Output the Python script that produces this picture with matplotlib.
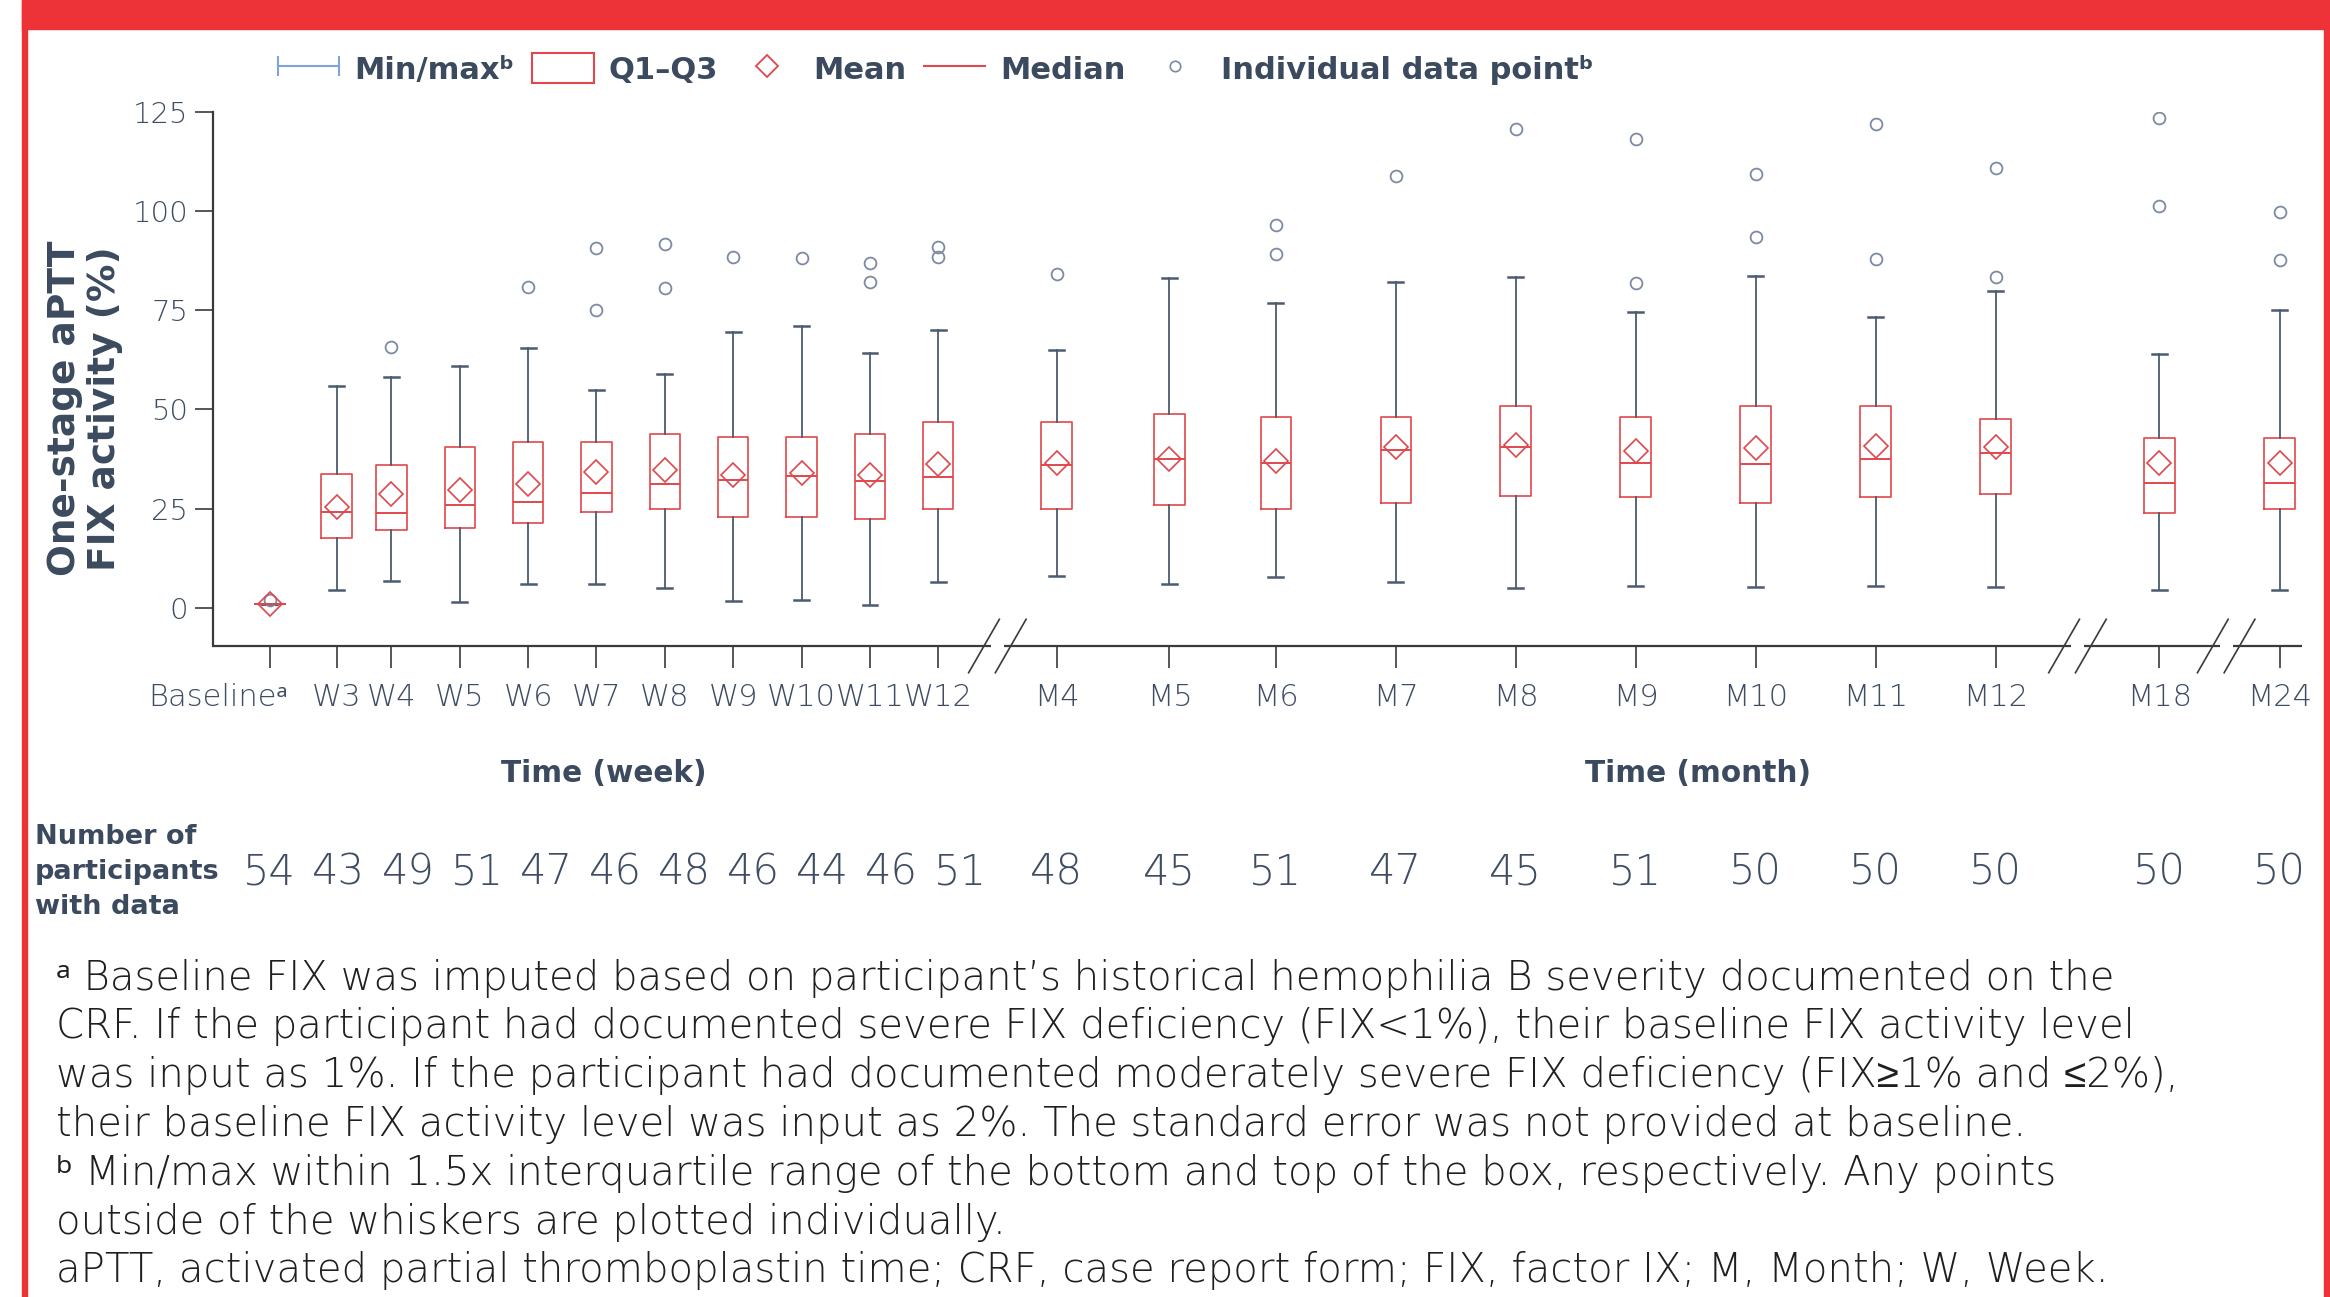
import matplotlib
matplotlib.use("Agg")
import numpy as np
import matplotlib.pyplot as plt
import matplotlib.transforms as mtransforms
from matplotlib.lines import Line2D
from matplotlib.patches import Patch, Rectangle
from matplotlib.legend_handler import HandlerLine2D

# time points
labels = ["Baselineᵃ", "W3", "W4", "W5", "W6", "W7", "W8", "W9", "W10", "W11", "W12",
          "M4", "M5", "M6", "M7", "M8", "M9", "M10", "M11", "M12", "M18", "M24"]
n_participants = [54, 43, 49, 51, 47, 46, 48, 46, 44, 46, 51,
                  48, 45, 51, 47, 45, 51, 50, 50, 50, 50, 50]

# box statistics, one-stage aPTT FIX activity (%)
q1 = [1, 17.7, 19.7, 20.2, 21.4, 24.2, 24.9, 23.0, 23.0, 22.3, 25.0,
      25.0, 25.8, 25.0, 26.5, 28.1, 28.0, 26.5, 27.9, 28.6, 23.8, 24.9]
median = [1, 24.2, 23.9, 26.0, 26.7, 28.9, 31.3, 32.2, 33.1, 31.9, 33.0,
          36.0, 37.4, 36.5, 39.7, 40.5, 36.5, 36.2, 37.4, 38.9, 31.5, 31.5]
q3 = [1, 33.8, 36.1, 40.5, 41.9, 41.9, 43.8, 43.1, 43.1, 43.8, 46.7,
      46.7, 48.8, 48.1, 48.1, 50.9, 48.1, 50.8, 50.8, 47.6, 42.8, 42.8]
mean = [1.04, 25.4, 28.6, 29.8, 31.2, 34.2, 34.7, 33.4, 34.0, 33.4, 36.3,
        36.6, 37.5, 37.1, 40.6, 41.1, 39.5, 40.2, 40.7, 40.6, 36.6, 36.4]
whisk_lo = [1, 4.4, 6.7, 1.4, 6.0, 6.1, 5.0, 1.8, 2.0, 0.7, 6.5,
            8.1, 6.1, 7.8, 6.4, 5.0, 5.6, 5.3, 5.4, 5.3, 4.4, 4.4]
whisk_hi = [1, 55.9, 58.1, 60.9, 65.5, 54.9, 59.0, 69.5, 71.0, 64.2, 69.9,
            64.9, 83.2, 76.8, 82.2, 83.4, 74.6, 83.6, 73.2, 79.7, 63.9, 75.1]
outliers = [[2], [], [65.6], [], [80.7], [75.0, 90.7], [80.5, 91.7], [88.3], [88.2],
            [82.0, 86.8], [88.3, 91.0], [84.1], [], [89.2, 96.4], [108.7], [120.7],
            [81.8, 118.1], [93.5, 109.3], [87.8, 121.8], [83.3, 110.9],
            [101.1, 123.5], [87.5, 99.6]]

footnotes = [
    "ᵃ Baseline FIX was imputed based on participant’s historical hemophilia B severity documented on the",
    "CRF. If the participant had documented severe FIX deficiency (FIX<1%), their baseline FIX activity level",
    "was input as 1%. If the participant had documented moderately severe FIX deficiency (FIX≥1% and ≤2%),",
    "their baseline FIX activity level was input as 2%. The standard error was not provided at baseline.",
    "ᵇ Min/max within 1.5x interquartile range of the bottom and top of the box, respectively. Any points",
    "outside of the whiskers are plotted individually.",
    "aPTT, activated partial thromboplastin time; CRF, case report form; FIX, factor IX; M, Month; W, Week.",
]

# colours
red = "#E0474C"
frame_red = "#EE3338"
navy = "#3B4A5E"
tick_col = "#3E4D62"
whisk_col = "#4B5B70"
count_col = "#3E4D62"
flier_col = "#7C8BA1"
axis_col = "#3A3A3A"
note_col = "#1F1F1F"

# light DejaVu lacks a few signs (superscripts, <= >=) -> fall back to Noto Sans
plt.rcParams["font.family"] = ["DejaVu Sans", "Noto Sans", "Liberation Sans"]

# x layout: spacing between consecutive time points (week slots)
steps = ([0, 1.0, 0.82] + [1.0225] * 8 +
         [1.77, 1.69, 1.59] + [1.795] * 6 + [2.45, 1.8])
pos = np.cumsum(steps)
# the counts row sits on its own even grid under the weeks
count_pos = np.concatenate([np.arange(11) * 1.034, pos[11:]])
breaks = [(pos[10] + pos[11]) / 2, (pos[19] + pos[20]) / 2, (pos[20] + pos[21]) / 2 + 0.1]
xlim = (-0.85, pos[-1] + 0.33)
ylim = (-9.6, 125)

fig = plt.figure(figsize=(23.3, 12.97), dpi=100)
ax = fig.add_axes([0.09142, 0.50193, 0.89644, 0.41203])

stats = []
for i in range(len(labels)):
    stats.append(dict(med=median[i], q1=q1[i], q3=q3[i], whislo=whisk_lo[i],
                      whishi=whisk_hi[i], mean=mean[i], fliers=outliers[i]))

ax.bxp(stats, positions=pos, widths=0.455, showmeans=True, manage_ticks=False,
       capwidths=0.22,
       boxprops=dict(color=red, lw=1.2),
       medianprops=dict(color=red, lw=1.4),
       whiskerprops=dict(color=whisk_col, lw=1.3),
       capprops=dict(color=whisk_col, lw=1.8),
       meanprops=dict(marker="D", markersize=12.5, markerfacecolor="none",
                      markeredgecolor=red, markeredgewidth=1.2),
       flierprops=dict(marker="o", markersize=8.5, markerfacecolor="none",
                       markeredgecolor=flier_col, markeredgewidth=1.3))

# axis with breaks
xt = ax.get_xaxis_transform()
gap = 0.1
edges = [xlim[0]]
for c in breaks:
    edges += [c - gap, c + gap]
edges.append(xlim[1])
for a, b in zip(edges[::2], edges[1::2]):
    ax.plot([a, b], [0, 0], transform=xt, color=axis_col, lw=1.6,
            solid_capstyle="butt", clip_on=False)
for c in breaks:
    for dx in (-0.2, 0.2):
        ax.plot([c + dx - 0.23, c + dx + 0.23], [-0.05, 0.05], transform=xt,
                color=axis_col, lw=1.2, clip_on=False)

ax.set_xlim(*xlim)
ax.set_ylim(*ylim)
for s in ["top", "right", "bottom"]:
    ax.spines[s].set_visible(False)
ax.spines["left"].set_color(axis_col)
ax.spines["left"].set_linewidth(1.6)

ax.set_yticks([0, 25, 50, 75, 100, 125])
ax.set_xticks(pos)
ax.set_xticklabels(labels)
ax.tick_params(axis="x", length=15.8, width=1.2, color=axis_col, pad=11,
               labelsize=22, labelcolor=tick_col)
ax.tick_params(axis="y", length=13, width=1.2, color=axis_col, pad=5,
               labelsize=21, labelcolor=tick_col)
for lab in ax.get_xticklabels() + ax.get_yticklabels():
    lab.set_fontweight("light")
base_lab = ax.get_xticklabels()[0]
base_lab.set_ha("right")
base_lab.set_transform(base_lab.get_transform() +
                       mtransforms.ScaledTranslation(0.18, 0, fig.dpi_scale_trans))

ax.set_ylabel("One-stage aPTT\nFIX activity (%)", fontsize=27, fontweight="bold",
              color=navy, linespacing=1.15, ha="center", va="center")
ax.yaxis.set_label_coords(-0.0613, 0.445)

# time labels and participant counts
bt = mtransforms.blended_transform_factory(ax.transData, fig.transFigure)
ax.text((pos[0] + pos[10]) / 2, 1 - 774 / 1297, "Time (week)", transform=bt,
        ha="center", va="center", fontsize=21.3, fontweight="bold", color=navy)
ax.text((pos[11] + pos[21]) / 2 + 0.45, 1 - 774 / 1297, "Time (month)", transform=bt,
        ha="center", va="center", fontsize=21.3, fontweight="bold", color=navy)
for x, n in zip(count_pos, n_participants):
    ax.text(x, 1 - 872 / 1297, str(n), transform=bt, ha="center", va="center",
            fontsize=30, fontweight="light", color=count_col)
fig.text(35 / 2330, 1 - 872 / 1297, "Number of\nparticipants\nwith data",
         ha="left", va="center", fontsize=19.5, fontweight="bold", color=navy,
         linespacing=1.45)

# legend
h_minmax = Line2D([], [], color="#7FA3DA", lw=1.5, marker="|", markersize=14,
                  markeredgewidth=1.5)
h_box = Patch(facecolor="white", edgecolor=red, lw=1.5)
h_mean = Line2D([], [], ls="none", marker="D", markersize=11, markerfacecolor="none",
                markeredgecolor=red, markeredgewidth=1.3)
h_med = Line2D([], [], color=red, lw=1.5)
h_pt = Line2D([], [], ls="none", marker="o", markersize=7.5, markerfacecolor="none",
              markeredgecolor=flier_col, markeredgewidth=1.2)
fig.legend([h_minmax, h_box, h_mean, h_med, h_pt],
           ["Min/maxᵇ", "Q1–Q3", "Mean", "Median", "Individual data pointᵇ"],
           loc="center", bbox_to_anchor=(0.4015, 1 - 69 / 1297), ncol=5, frameon=False,
           handlelength=2.0, handleheight=1.1, handletextpad=0.5, columnspacing=0.6,
           numpoints=1, prop=dict(weight="bold", size=22), labelcolor=navy,
           handler_map={h_minmax: HandlerLine2D(numpoints=2, marker_pad=0)})

# footnotes
for i, line in enumerate(footnotes):
    fig.text(56 / 2330, 1 - (978 + 48.8 * i) / 1297, line, ha="left", va="center",
             fontsize=29, fontweight="light", color=note_col)

# red frame of the figure panel
fig.patches.append(Rectangle((22 / 2330, 1 - 29 / 1297), 1, 29 / 1297,
                             transform=fig.transFigure, color=frame_red, zorder=0))
fig.patches.append(Rectangle((22 / 2330, 0), 5 / 2330, 1, transform=fig.transFigure,
                             color=frame_red, zorder=0))
fig.patches.append(Rectangle((2324 / 2330, 0), 6 / 2330, 1, transform=fig.transFigure,
                             color=frame_red, zorder=0))

fig.savefig("out.png", dpi=100)
